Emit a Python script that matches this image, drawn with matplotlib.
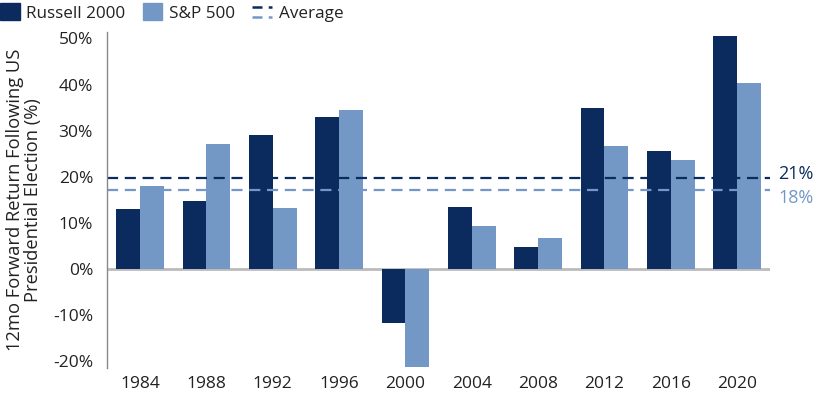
import matplotlib
matplotlib.use("Agg")
import matplotlib.pyplot as plt
from matplotlib.legend_handler import HandlerBase
from matplotlib.lines import Line2D
from matplotlib.patches import Patch
import numpy as np

plt.rcParams['font.family'] = ['Open Sans', 'DejaVu Sans']

years = ['1984', '1988', '1992', '1996', '2000', '2004', '2008', '2012', '2016', '2020']
russell = [13.0, 14.8, 29.1, 33.0, -11.7, 13.4, 4.8, 34.9, 25.6, 50.6]
sp500 = [18.0, 27.1, 13.2, 34.5, -21.3, 9.3, 6.7, 26.7, 23.6, 40.3]
avg_lines = [19.7, 17.1]
avg_labels = ['21%', '18%']

dark = '#0b2b5f'
light = '#7398c6'
text_col = '#222222'


class HandlerDoubleDash(HandlerBase):
    def create_artists(self, legend, orig_handle, xdescent, ydescent,
                       width, height, fontsize, trans):
        y1 = height * 0.8 - ydescent
        y2 = height * 0.2 - ydescent
        l1 = Line2D([-xdescent, width - xdescent], [y1, y1], color=dark,
                    lw=1.8, dashes=(4, 2.5), transform=trans)
        l2 = Line2D([-xdescent, width - xdescent], [y2, y2], color=light,
                    lw=1.8, dashes=(4, 2.5), transform=trans)
        return [l1, l2]


fig = plt.figure(figsize=(8.16, 4.0), dpi=100)
ax = fig.add_axes([0.131, 0.08, 0.813, 0.84])

x = np.arange(len(years))
w = 0.36
ax.bar(x - w / 2, russell, w, color=dark, clip_on=False)
ax.bar(x + w / 2, sp500, w, color=light, clip_on=False)

ax.axhline(0, color='#bbbbbb', lw=2, zorder=0.5)
ax.axhline(avg_lines[0], color=dark, lw=1.6, dashes=(5, 3))
ax.axhline(avg_lines[1], color=light, lw=1.6, dashes=(5, 3))

ax.text(1.012, avg_lines[0] + 0.8, avg_labels[0], transform=ax.get_yaxis_transform(),
        color=dark, fontsize=13, va='center', ha='left')
ax.text(1.012, avg_lines[1] - 1.7, avg_labels[1], transform=ax.get_yaxis_transform(),
        color=light, fontsize=13, va='center', ha='left')

ax.set_xlim(-0.5, 9.5)
ax.set_ylim(-21.5, 51.4)
ax.set_xticks(x)
ax.set_xticklabels(years)
ax.set_yticks(range(-20, 51, 10))
ax.set_yticklabels([f'{v}%' for v in range(-20, 51, 10)])
ax.tick_params(length=0, labelsize=12.5, colors=text_col, pad=10)
ax.tick_params(axis='x', pad=6)

for s in ['top', 'right', 'bottom']:
    ax.spines[s].set_visible(False)
ax.spines['left'].set_color('#888888')
ax.spines['left'].set_linewidth(1)

ax.set_ylabel('12mo Forward Return Following US\nPresidential Election (%)',
              fontsize=13.2, color=text_col, labelpad=8, linespacing=0.95)

handles = [Patch(color=dark), Patch(color=light), object()]
labels = ['Russell 2000', 'S&P 500', 'Average']
fig.legend(handles, labels, loc='upper left', bbox_to_anchor=(-0.019, 1.03),
           ncol=3, frameon=False, fontsize=12.3, handlelength=1.15,
           handleheight=1.15, handletextpad=0.4, columnspacing=1.0,
           handler_map={object: HandlerDoubleDash()}, labelcolor=text_col)

fig.savefig('out.png', dpi=100)
